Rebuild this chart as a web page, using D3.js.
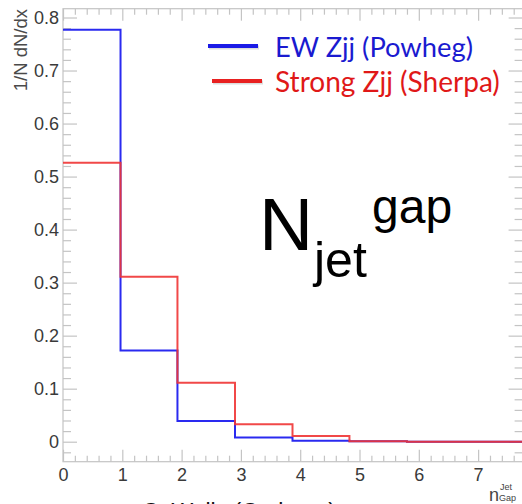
<!DOCTYPE html>
<html>
<head>
<meta charset="utf-8">
<script src="https://cdn.jsdelivr.net/npm/d3@7"></script>
<style>
body { margin: 0; background: #fff; }
svg { display: block; }
</style>
</head>
<body>
<svg width="522" height="504"></svg>
<script>
// bin edges of the histogram (x units)
var binEdges = [0, 0.97, 1.93, 2.9, 3.87, 4.83, 5.8, 6.76, 7.75];
// EW Zjj (Powheg)
var ewValues = [0.777, 0.172, 0.039, 0.008, 0.002, 0.001, 0.0, 0.0];
// Strong Zjj (Sherpa)
var strongValues = [0.526, 0.311, 0.111, 0.033, 0.011, 0.001, 0.0, 0.0];
var xTicks = [0, 1, 2, 3, 4, 5, 6, 7];
var yTicks = [0, 0.1, 0.2, 0.3, 0.4, 0.5, 0.6, 0.7, 0.8];
var seriesNames = ["EW Zjj (Powheg)", "Strong Zjj (Sherpa)"];

var pLeft = 63, pRight = 522.6, pTop = 8.7, pBottom = 461.7;

var xs = d3.scaleLinear().domain([0, 7.75]).range([pLeft, pRight]);
var ys = d3.scaleLinear().domain([-0.0377, 0.8166]).range([pBottom, pTop]);

var svg = d3.select('svg');
var axisCol = '#c4c4c4';
var labCol = '#3a3a3a';

// minor tick positions
var xMinor = d3.range(0, 7.75, 0.2).filter(function(v) { return Math.abs(v - Math.round(v)) > 0.01; });
var yMinor = d3.range(-0.02, 0.82, 0.02).filter(function(v) { return Math.abs(v * 10 - Math.round(v * 10)) > 0.01; });

function styleAxis(g) {
  g.select('.domain').remove();
  g.selectAll('line').attr('stroke', axisCol).attr('stroke-width', 1.2);
  g.selectAll('text').attr('fill', labCol)
    .style('font-family', 'Liberation Sans, Arial, sans-serif')
    .style('font-size', '18px');
}

// bottom axis
svg.append('g').attr('transform', 'translate(0,' + pBottom + ')')
  .call(d3.axisBottom(xs).tickValues(xTicks).tickSize(-12).tickPadding(7).tickFormat(d3.format('d')))
  .call(styleAxis);
svg.append('g').attr('transform', 'translate(0,' + pBottom + ')')
  .call(d3.axisBottom(xs).tickValues(xMinor).tickSize(-6).tickFormat(''))
  .call(styleAxis);
// top axis
svg.append('g').attr('transform', 'translate(0,' + pTop + ')')
  .call(d3.axisTop(xs).tickValues(xTicks).tickSize(-12).tickFormat(''))
  .call(styleAxis);
svg.append('g').attr('transform', 'translate(0,' + pTop + ')')
  .call(d3.axisTop(xs).tickValues(xMinor).tickSize(-6).tickFormat(''))
  .call(styleAxis);
// left axis
svg.append('g').attr('transform', 'translate(' + pLeft + ',0)')
  .call(d3.axisLeft(ys).tickValues(yTicks).tickSize(-14).tickPadding(4).tickFormat(d3.format('~g')))
  .call(styleAxis);
svg.append('g').attr('transform', 'translate(' + pLeft + ',0)')
  .call(d3.axisLeft(ys).tickValues(yMinor).tickSize(-8).tickFormat(''))
  .call(styleAxis);
// right axis
svg.append('g').attr('transform', 'translate(' + pRight + ',0)')
  .call(d3.axisRight(ys).tickValues(yTicks).tickSize(-14).tickFormat(''))
  .call(styleAxis);
svg.append('g').attr('transform', 'translate(' + pRight + ',0)')
  .call(d3.axisRight(ys).tickValues(yMinor).tickSize(-8).tickFormat(''))
  .call(styleAxis);

// frame
svg.append('rect')
  .attr('x', pLeft).attr('y', pTop)
  .attr('width', pRight - pLeft).attr('height', pBottom - pTop)
  .attr('fill', 'none').attr('stroke', axisCol).attr('stroke-width', 1.2);

svg.append('clipPath').attr('id', 'plot')
  .append('rect').attr('x', pLeft).attr('y', pTop).attr('width', pRight - pLeft).attr('height', pBottom - pTop);

// step histograms
function steps(vals) {
  var pts = vals.map(function(v, i) { return [binEdges[i], v]; });
  pts.push([binEdges[binEdges.length - 1], vals[vals.length - 1]]);
  return pts;
}
var line = d3.line()
  .x(function(d) { return xs(d[0]); })
  .y(function(d) { return ys(d[1]); })
  .curve(d3.curveStepAfter);

svg.append('path').datum(steps(ewValues))
  .attr('clip-path', 'url(#plot)')
  .attr('d', line).attr('fill', 'none')
  .attr('stroke', '#2a2af0').attr('stroke-width', 2);
svg.append('path').datum(steps(strongValues))
  .attr('clip-path', 'url(#plot)')
  .attr('d', line).attr('fill', 'none')
  .attr('stroke', '#f03434').attr('stroke-width', 2).attr('stroke-opacity', 0.9);

// y title
svg.append('text')
  .attr('transform', 'translate(27,9) rotate(-90)')
  .attr('text-anchor', 'end')
  .attr('fill', '#4a4a4a')
  .style('font-family', 'Liberation Sans, Arial, sans-serif')
  .style('font-size', '18.5px')
  .text('1/N  dN/dx');

// x title (bottom right)
svg.append('text').attr('x', 489).attr('y', 501).attr('fill', '#444')
  .style('font-family', 'Liberation Sans, Arial, sans-serif').style('font-size', '18px').text('n');
svg.append('text').attr('x', 500).attr('y', 490).attr('fill', '#444')
  .style('font-family', 'Liberation Sans, Arial, sans-serif').style('font-size', '9px').text('Jet');
svg.append('text').attr('x', 499).attr('y', 501).attr('fill', '#444')
  .style('font-family', 'Liberation Sans, Arial, sans-serif').style('font-size', '9px').text('Gap');

// legend
var legCols = ['#1a1ad0', '#e01818'];
var legLine = ['#1a1ae6', '#e82020'];
var legY = [57, 92];
var legW = [198, 225];
seriesNames.forEach(function(name, i) {
  svg.append('line')
    .attr('x1', 209 + i * 4).attr('x2', 259 + i * 4)
    .attr('y1', legY[i] - 11 + 1.5).attr('y2', legY[i] - 11 + 1.5)
    .attr('stroke', '#bbb').attr('stroke-width', 4).attr('opacity', 0.5);
  svg.append('line')
    .attr('x1', 208 + i * 4).attr('x2', 258 + i * 4)
    .attr('y1', legY[i] - 11).attr('y2', legY[i] - 11)
    .attr('stroke', legLine[i]).attr('stroke-width', 4);
  var t = svg.append('text')
    .attr('x', 275).attr('y', legY[i])
    .attr('fill', legCols[i])
    .style('font-family', 'Lato, Open Sans, sans-serif')
    .style('font-size', '26px')
    .text(name);
  var w = t.node().getComputedTextLength();
  t.style('font-size', (26 * legW[i] / w) + 'px');
});

// big label
var big = svg.append('g').attr('fill', '#000')
  .style('font-family', 'Liberation Sans, Arial, sans-serif');
big.append('text').attr('x', 259).attr('y', 250).style('font-size', '75px').text('N');
big.append('text').attr('x', 314).attr('y', 277).style('font-size', '50px').text('jet');
big.append('text').attr('x', 372).attr('y', 223).style('font-size', '48px').text('gap');

// caption cut off at the bottom edge
svg.append('text').attr('x', 142).attr('y', 520)
  .attr('fill', '#111')
  .style('font-family', 'Liberation Sans, Arial, sans-serif')
  .style('font-size', '23px')
  .text('C. Wells (Carleton)');
</script>
</body>
</html>
